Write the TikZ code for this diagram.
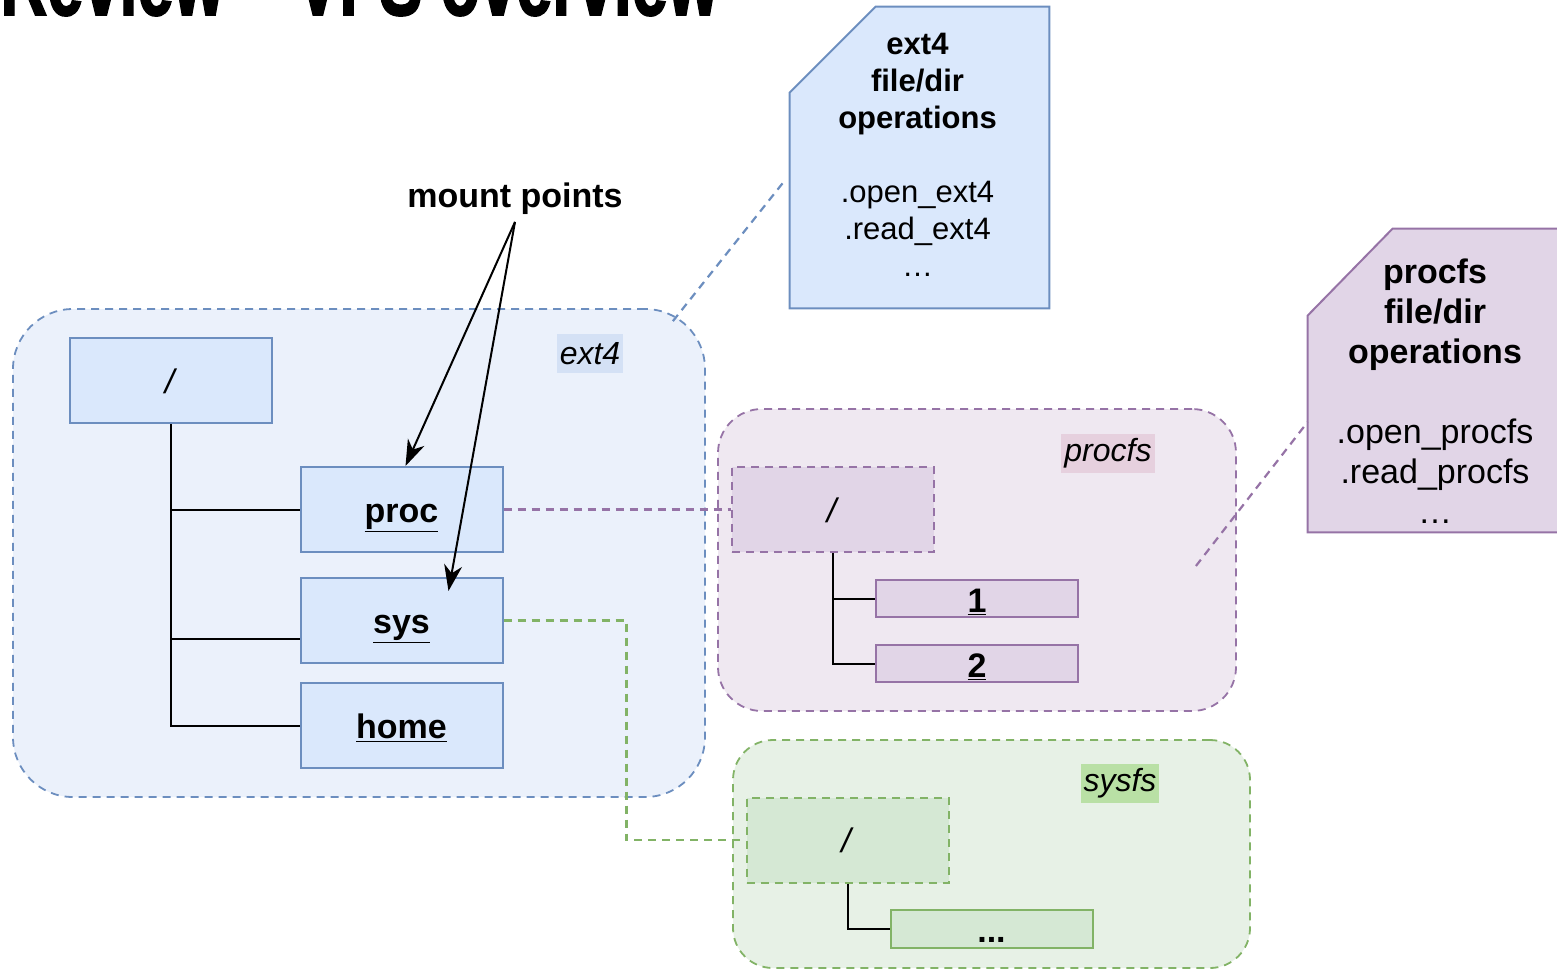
\documentclass[tikz,border=0pt]{standalone}
\usepackage{fontspec}
\usepackage{graphicx}
\setmainfont{Liberation Sans}
\newfontfamily\titlefont{Liberation Sans}[BoldFeatures={FakeBold=2}]
\usetikzlibrary{calc,arrows.meta}

\definecolor{blueline}{HTML}{6C8EBF}
\definecolor{bluefill}{HTML}{DAE8FC}
\definecolor{blueback}{HTML}{EBF1FB}
\definecolor{bluetag}{HTML}{D4E1F5}
\definecolor{purpleline}{HTML}{9673A6}
\definecolor{purplefill}{HTML}{E1D5E7}
\definecolor{purpleback}{HTML}{EFE8F1}
\definecolor{purpletag}{HTML}{E6D0DE}
\definecolor{greenline}{HTML}{82B366}
\definecolor{greenfill}{HTML}{D5E8D4}
\definecolor{greenback}{HTML}{E7F1E6}
\definecolor{greentag}{HTML}{B9E0A5}

\tikzset{
  fsarea/.style={draw, dash pattern=on 4pt off 3pt, line width=0.9pt, inner sep=0pt},
  dirbox/.style={draw, line width=1pt, minimum width=101pt, minimum height=42.5pt, inner sep=0pt, text height=14pt, text depth=1.5pt},
  filebox/.style={draw, line width=1pt, minimum width=101pt, minimum height=18.5pt, inner sep=0pt, text height=14pt, text depth=0.5pt},
  fstag/.style={inner sep=1.5pt, minimum height=19.5pt, font=\fontsize{16}{18}\selectfont\itshape},
  opscard/.style={inner sep=0pt},
  tree/.style={line width=1pt},
  mountlink/.style={dash pattern=on 4pt off 3pt, line width=1.1pt},
  pointer/.style={line width=1pt, -{Stealth[length=13pt,width=9pt,inset=4pt]}},
}

\begin{document}
\begin{tikzpicture}[x=0.5pt, y=-0.5pt, font=\fontsize{17}{20}\selectfont]
	\useasboundingbox (0,0) rectangle (1557,970);
	%
	\node [anchor=base west, inner sep=0pt] (title) at (0,15) {\resizebox{359pt}{35pt}{\titlefont\bfseries Review – VFS overview}};
	%
	\node [fsarea, draw=blueline, fill=blueback, rounded corners=30pt, minimum width=346pt, minimum height=244pt] (ext4fs) at (359,553) {};
	\node [fsarea, draw=purpleline, fill=purpleback, rounded corners=22pt, minimum width=259pt, minimum height=151pt] (procfs) at (977,560) {};
	\node [fsarea, draw=greenline, fill=greenback, rounded corners=20pt, minimum width=258.5pt, minimum height=114pt] (sysfs) at (991.5,854) {};
	\node [fstag, fill=bluetag] (ext4tag) at (590,353.5) {ext4};
	\node [fstag, fill=purpletag] (proctag) at (1108,453.5) {procfs};
	\node [fstag, fill=greentag] (systag) at (1120,783.5) {sysfs};
	%
	\node [dirbox, draw=blueline, fill=bluefill] (root) at (171,380.5) {\textit{/}};
	\node [dirbox, draw=blueline, fill=bluefill] (proc) at (401.5,509.5) {\underline{\textbf{proc}}};
	\node [dirbox, draw=blueline, fill=bluefill] (sys) at (401.5,620.5) {\underline{\textbf{sys}}};
	\node [dirbox, draw=blueline, fill=bluefill] (home) at (401.5,725.5) {\underline{\textbf{home}}};
	\draw [tree] (root.south) |- (proc.west);
	\draw [tree] (root.south) |- ([yshift=-9pt]sys.west);
	\draw [tree] (root.south) |- (home.west);
	%
	\node [dirbox, draw=purpleline, fill=purplefill, dash pattern=on 4pt off 3pt] (procroot) at (833,509.5) {\textit{/}};
	\node [filebox, draw=purpleline, fill=purplefill] (pone) at (977,598.5) {\underline{\textbf{1}}};
	\node [filebox, draw=purpleline, fill=purplefill] (ptwo) at (977,663.5) {\underline{\textbf{2}}};
	\draw [tree] (procroot.south) |- (pone.west);
	\draw [tree] (procroot.south) |- (ptwo.west);
	%
	\node [dirbox, draw=greenline, fill=greenfill, dash pattern=on 4pt off 3pt] (sysroot) at (847.5,840) {\textit{/}};
	\node [filebox, draw=greenline, fill=greenfill, minimum height=19pt] (sdots) at (991.5,929) {\textbf{...}};
	\draw [tree] (sysroot.south) |- (sdots.west);
	%
	\draw [mountlink, purpleline] (proc.east) -- (procroot.west);
	\draw [mountlink, greenline] (sys.east) -- ++(123,0) |- (sysroot.west);
	%
	\node [font=\fontsize{17}{20}\selectfont\bfseries] (mount) at (515,199) {mount points};
	\draw [pointer] (mount.south) -- ([xshift=2pt]proc.north);
	\draw [pointer] (mount.south) -- ($(sys.north)+(47,14)$);
	%
	\node [opscard, minimum width=129.5pt, minimum height=150.5pt] (ext4ops) at (919.5,157.5) {};
	\draw [draw=blueline, fill=bluefill, line width=1pt] ($(ext4ops.north west)+(0,86)$) -- ($(ext4ops.north west)+(86,0)$) -- (ext4ops.north east) -- (ext4ops.south east) -- (ext4ops.south west) -- cycle;
	\node [align=center, font=\fontsize{15.5}{18.5}\selectfont] (ext4text) at ($(ext4ops.center)+(-2,-3)$) {\textbf{ext4}\\\textbf{file/dir}\\\textbf{operations}\\[18.5pt].open\_ext4\\.read\_ext4\\\dots};
	\draw [mountlink, blueline] ($(ext4fs.north east)+(-33,13)$) -- ($(ext4ops.west)+(-6,24.5)$);
	%
	\node [opscard, minimum width=127pt, minimum height=151.5pt] (procops) at (1435,380.5) {};
	\draw [draw=purpleline, fill=purplefill, line width=1pt] ($(procops.north west)+(0,87)$) -- ($(procops.north west)+(85,0)$) -- (procops.north east) -- (procops.south east) -- (procops.south west) -- cycle;
	\node [align=center] (proctext) at ($(procops.center)+(0,11)$) {\textbf{procfs}\\\textbf{file/dir}\\\textbf{operations}\\[20pt].open\_procfs\\.read\_procfs\\\dots};
	\draw [mountlink, purpleline] ($(procfs.east)+(-41,6)$) -- ($(procops.west)+(0,41.5)$);
\end{tikzpicture}
\end{document}
